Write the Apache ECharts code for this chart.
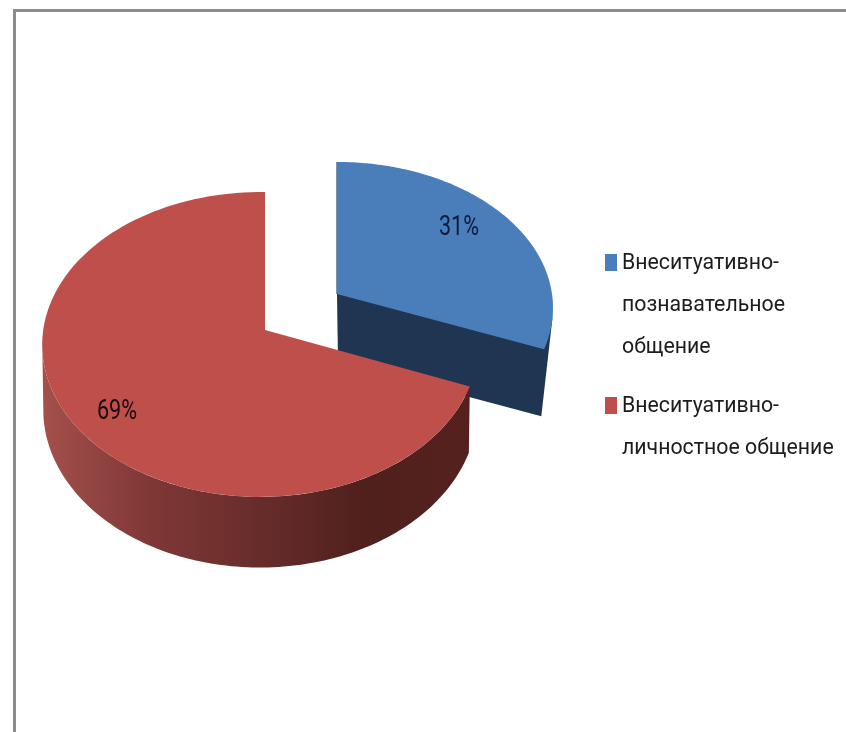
<!DOCTYPE html>
<html><head><meta charset="utf-8">
<style>html,body{margin:0;padding:0;background:#fff}#c{width:846px;height:732px}</style>
<script src="https://cdn.jsdelivr.net/npm/echarts@6/dist/echarts.min.js"></script>
</head><body><div id="c"></div>
<script>
const categories = ['Внеситуативно-\nпознавательное\nобщение', 'Внеситуативно-\nличностное общение'];
const values = [31, 69];
const valueLabels = ['31%', '69%'];
const colors = ['#4A7EBB', '#BE4F4B'];

const FONT = 'Roboto,"Noto Sans",sans-serif';
const total = values.reduce((a, b) => a + b, 0);
const geo = [
  { top:{cx:337,cy:294,a:215,h:144.6,p:0.095,q:0},   bot:{cx:338,cy:362,a:211,h:142,p:0.095,q:0},
    label:[459,228] },
  { top:{cx:265,cy:330,a:217,h:151,p:0.095,q:0.0216}, bot:{cx:265,cy:394,a:216,h:157,p:0.095,q:0.0216},
    label:[117,412] }
];
function pt(e, deg){
  const t = deg*Math.PI/180, w = 1 + e.p*Math.cos(t) + e.q*Math.sin(t);
  return [e.cx + e.a*Math.sin(t)/w, e.cy - e.h*Math.cos(t)/w];
}
function arc(e, from, to){
  const n = 120, out = [];
  for(let i=0;i<=n;i++) out.push(pt(e, from + (to-from)*i/n));
  return out;
}
function renderSlice(idx){
  return function(params, api){
    const start = values.slice(0, idx).reduce((a,b)=>a+b,0)/total*360;
    const end = start + api.value(0)/total*360;
    const g = geo[idx], kids = [];
    if(idx === 0){
      const botEnd = pt(g.bot,end);
      kids.push({type:'polygon',shape:{points:[[g.top.cx,g.top.cy],pt(g.top,90),pt(g.top,100),botEnd,[g.bot.cx,g.bot.cy]]},
        style:{fill:'#1F3552'}});
      kids.push({type:'line',shape:{x1:g.top.cx,y1:pt(g.top,0)[1],x2:g.top.cx,y2:g.top.cy},
        style:{stroke:'#2b4a72',lineWidth:1.2}});
    } else {
      kids.push({type:'polygon',shape:{points:arc(g.top,start,262).concat(arc(g.bot,262,start))},
        style:{fill:{type:'linear',x:0,y:0,x2:1,y2:0,colorStops:[
          {offset:0,color:'#A5504D'},{offset:0.25,color:'#7F3836'},{offset:0.52,color:'#662C2A'},
          {offset:0.75,color:'#50201D'},{offset:1,color:'#54211E'}]}}});
    }
    kids.push({type:'polygon',shape:{points:[[g.top.cx,g.top.cy]].concat(arc(g.top,start,end))},
      style:{fill:colors[idx]}});
    kids.push({type:'text',x:g.label[0],y:g.label[1],scaleX:0.8,
      style:{text:valueLabels[idx],font:'27px '+FONT,fill:idx===0?'#101a3c':'#1a0b0b',align:'center',verticalAlign:'middle'}});
    return {type:'group',children:kids};
  };
}
function iconPath(h){ return 'path://M0 0L0.01 0M0 11H12V28H0Z M0 '+h+'L0.01 '+h; }
const legendBase = {orient:'vertical',itemWidth:12,padding:0,itemGap:0,selectedMode:false,
  textStyle:{fontFamily:FONT,fontSize:21.3,color:'#1c1c1c',lineHeight:42,padding:[0,0,0,0]}};
const chart = echarts.init(document.getElementById('c'),null,{renderer:'canvas'});
chart.setOption({
  animation:false,
  backgroundColor:'#fff',
  graphic:[
    {type:'rect',shape:{x:13,y:9,width:840,height:3},style:{fill:'#8c8c8c'}},
    {type:'rect',shape:{x:13,y:9,width:3,height:730},style:{fill:'#8c8c8c'}}
  ],
  legend:[
    Object.assign({},legendBase,{left:605,top:243,itemHeight:126,data:[{name:categories[0],icon:iconPath(126)}]}),
    Object.assign({},legendBase,{left:605,top:386,itemHeight:84,data:[{name:categories[1],icon:iconPath(84)}]})
  ],
  series: values.map((v,i)=>({
    type:'custom',name:categories[i],coordinateSystem:'none',
    itemStyle:{color:colors[i]},
    renderItem:renderSlice(i),data:[[v]],silent:true,clip:false
  }))
});
</script></body></html>
